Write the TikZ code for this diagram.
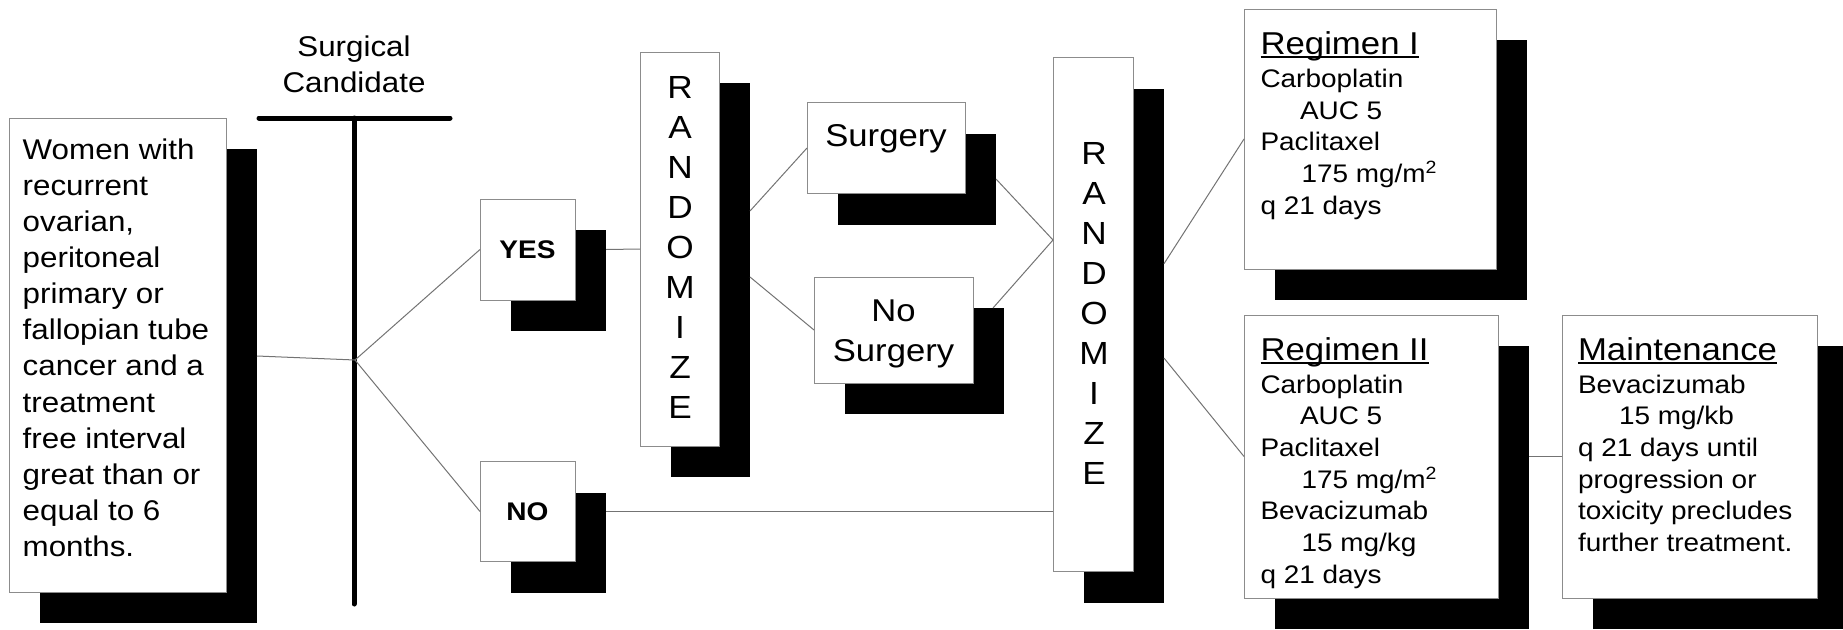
\documentclass[tikz,border=0pt]{standalone}
\usepackage{fontspec}
\setmainfont{Liberation Sans}[FakeStretch=1.1]
\newsavebox\headbox
% underlined heading with the rule close to the baseline
\newcommand\ulhead[1]{\sbox\headbox{#1}\rlap{\rule[-3.5pt]{\wd\headbox}{2pt}}\usebox\headbox}
% fixed first-line height, so a text block's top sits 30pt above its first baseline
\newcommand\ts{\rule{0pt}{30pt}}
\newcommand\ind{\hspace*{41pt}}
\newcommand\indauc{\hspace*{39.5pt}}
\begin{document}
\begin{tikzpicture}[x=1pt, y=-1pt,
  box/.style={draw=black!45, fill=white, line width=1pt, inner sep=0pt, outer sep=0pt, anchor=north west},
  shade/.style={fill=black, draw=none, inner sep=0pt, outer sep=0pt, anchor=north west},
  link/.style={draw=black!55, line width=1pt},
  txt/.style={inner sep=0pt, outer sep=0pt, anchor=north west, align=left},
  ctxt/.style={inner sep=0pt, outer sep=0pt, anchor=north, align=center},
  big/.style={font=\fontsize{28.5}{36.1}\selectfont},
  letters/.style={font=\fontsize{32}{40}\selectfont},
  arm/.style={font=\fontsize{31.5}{40.4}\selectfont},
  body/.style={font=\fontsize{25.4}{31.7}\selectfont},
  answer/.style={font=\bfseries\fontsize{25.5}{30}\selectfont},
]
\newcommand\head[1]{{\fontsize{31.6}{31.7}\selectfont\ulhead{#1}}}
\useasboundingbox (0,0) rectangle (1843,629);
\clip (0,0) rectangle (1843,629);

% ---- drop shadows (solid black, offset down-right) ----
\node[shade, minimum width=217pt, minimum height=474pt] (womenS)  at (40,149)    {};
\node[shade, minimum width=95pt,  minimum height=101pt] (yesS)    at (511,230)   {};
\node[shade, minimum width=95pt,  minimum height=100pt] (noS)     at (511,492.5) {};
\node[shade, minimum width=79pt,  minimum height=394pt] (randAS)  at (671,83)    {};
\node[shade, minimum width=158pt, minimum height=91pt]  (surgS)   at (838,133.5) {};
\node[shade, minimum width=159pt, minimum height=106pt] (nosurgS) at (845,308)   {};
\node[shade, minimum width=80pt,  minimum height=514pt] (randBS)  at (1084,88.5) {};
\node[shade, minimum width=252pt, minimum height=260pt] (regAS)   at (1275,40)   {};
\node[shade, minimum width=254pt, minimum height=283pt] (regBS)   at (1275,346)  {};
\node[shade, minimum width=255pt, minimum height=283pt] (maintS)  at (1593,346)  {};

% ---- boxes ----
\node[box, minimum width=217pt, minimum height=474pt] (women)  at (9,118)     {};
\node[box, minimum width=95pt,  minimum height=101pt, answer] (yes) at (480,199) {YES};
\node[box, minimum width=95pt,  minimum height=100pt, answer] (no)  at (480,461.5) {NO};
\node[box, minimum width=79pt,  minimum height=394pt] (randA)  at (640,52)    {};
\node[box, minimum width=158pt, minimum height=91pt]  (surg)   at (807,102.5) {};
\node[box, minimum width=159pt, minimum height=106pt] (nosurg) at (814,277)   {};
\node[box, minimum width=80pt,  minimum height=514pt] (randB)  at (1053,57.5) {};
\node[box, minimum width=252pt, minimum height=260pt] (regA)   at (1244,9)    {};
\node[box, minimum width=254pt, minimum height=283pt] (regB)   at (1244,315)  {};
\node[box, minimum width=255pt, minimum height=283pt] (maint)  at (1562,315)  {};

% ---- texts ----
\node[ctxt, big] (candT) at (354,26) {\ts Surgical\\Candidate};
\node[txt, big] (womenT) at (22.7,129.3) {\ts Women with\\recurrent\\ovarian,\\peritoneal\\primary or\\fallopian tube\\cancer and a\\treatment\\free interval\\great than or\\equal to 6\\months.};
\node[ctxt, letters] (randAT) at (680,68.3) {\ts R\\A\\N\\D\\O\\M\\I\\Z\\E};
\node[ctxt, letters] (randBT) at (1094,134.7) {\ts R\\A\\N\\D\\O\\M\\I\\Z\\E};
\node[ctxt, arm] (surgT) at (886,116.6) {\ts Surgery};
\node[ctxt, arm] (nosurgT) at (893.5,291) {\ts No\\Surgery};
\node[txt, body] (regAT) at (1260.5,24.3) {\ts\head{Regimen I}\\[1.3pt]Carboplatin\\\indauc AUC 5\\Paclitaxel\\\ind 175 mg/m\textsuperscript{2}\\q 21 days};
\node[txt, body] (regBT) at (1260.5,330) {\ts\head{Regimen II}\\[1.3pt]Carboplatin\\\indauc AUC 5\\Paclitaxel\\\ind 175 mg/m\textsuperscript{2}\\Bevacizumab\\\ind 15 mg/kg\\q 21 days};
\node[txt, body] (maintT) at (1578,330) {\ts\head{Maintenance}\\[1.3pt]Bevacizumab\\\ind 15 mg/kb\\q 21 days until\\progression or\\toxicity precludes\\further treatment.};

% ---- surgical candidate T-bar ----
\coordinate (barL) at (259,118);
\coordinate (barR) at (450,118);
\coordinate (barTop) at (354,118);
\coordinate (barBot) at (354,604);
\coordinate (fork) at (355,360);
\draw[line width=5pt, line cap=round] (barL) -- (barR);
\draw[line width=5pt, line cap=round] (barTop) -- (barBot);

% ---- connectors ----
\draw[link] ([yshift=30pt]womenS.east) -- (fork);
\draw[link] (fork) -- (yes.west);
\draw[link] (fork) -- (no.west);
\draw[link] (yesS.east |- yes.center) -- (randA.west);
\draw[link] (noS.east |- no.center) -- (no.center -| randB.west);
\draw[link] ([yshift=69pt]randAS.east) -- (surg.west);
\draw[link] ([yshift=3pt]randAS.east) -- (nosurg.west);
\coordinate (randBin) at ([yshift=74.5pt]randB.west);
\draw[link] (surgS.east) -- (randBin);
\draw[link] ([xshift=-11pt]nosurgS.north east) -- (randBin);
\draw[link] ([yshift=81.8pt]randBS.east) -- (regA.west);
\draw[link] ([yshift=-12.6pt]randBS.east) -- (regB.west);
\draw[link] (regBS.east |- regB.center) -- (maint.west);
\end{tikzpicture}
\end{document}
